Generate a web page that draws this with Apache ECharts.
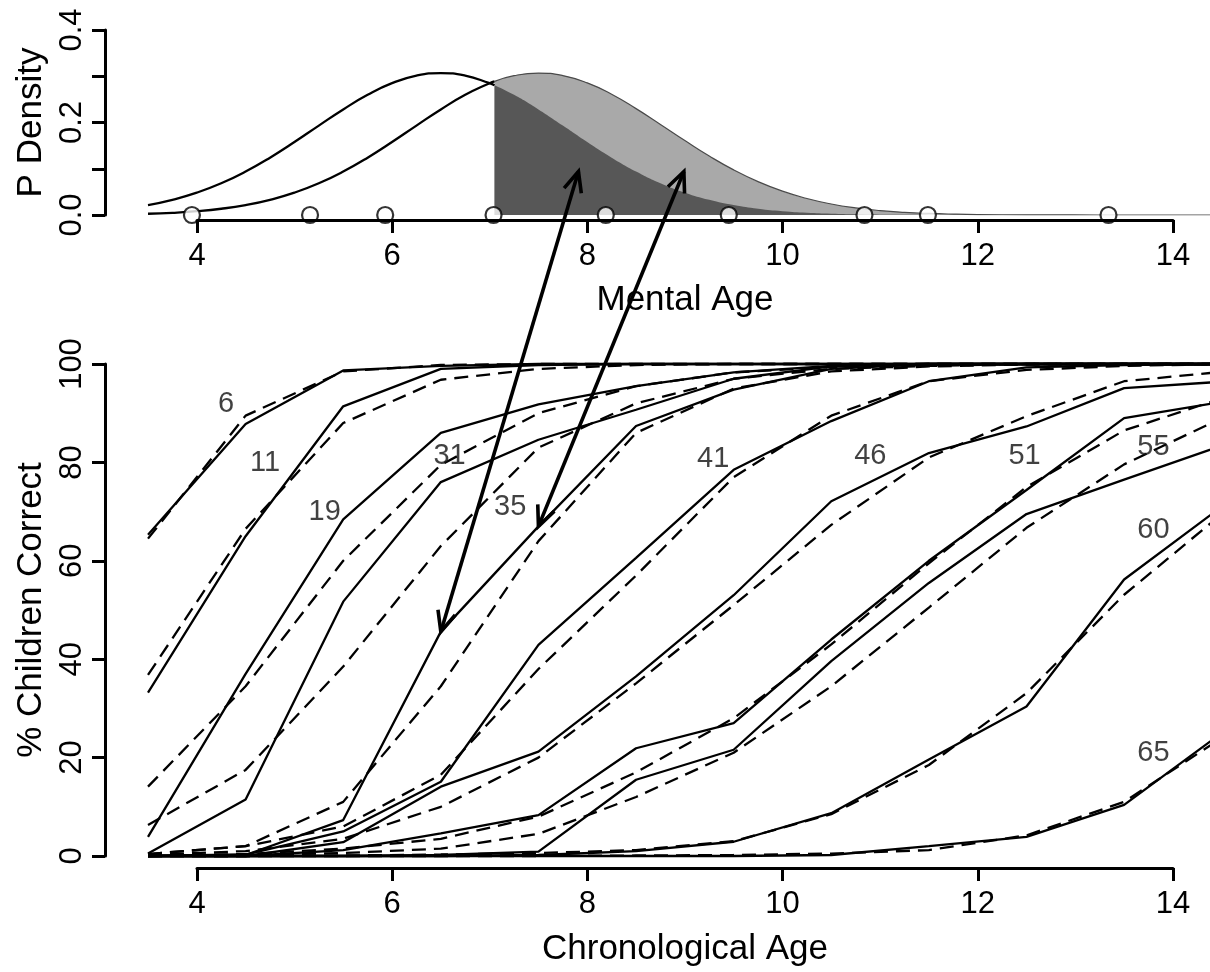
<!DOCTYPE html>
<html>
<head>
<meta charset="utf-8">
<script src="https://cdn.jsdelivr.net/npm/echarts@6/dist/echarts.min.js"></script>
<style>
  html, body { margin: 0; padding: 0; background: #fff; }
  #chart { width: 1210px; height: 972px; }
</style>
</head>
<body>
<div id="chart"></div>
<script>
// ---- top panel: mental age densities ----
const densX = [3.5, 3.75, 4, 4.25, 4.5, 4.75, 5, 5.25, 5.5, 5.75, 6, 6.25, 6.5, 6.75, 7, 7.05,
  7.25, 7.5, 7.75, 8, 8.25, 8.5, 8.75, 9, 9.25, 9.5, 9.75, 10, 10.25, 10.5, 10.75, 11, 11.25,
  11.5, 11.75, 12, 12.5, 13, 13.5, 14, 14.5];
const densLower = [0.0214, 0.0328, 0.0483, 0.0686, 0.094, 0.124, 0.1577, 0.1933, 0.2283, 0.2598,
  0.285, 0.3013, 0.3069, 0.3013, 0.285, 0.2806, 0.2598, 0.2283, 0.1933, 0.1577, 0.124, 0.094,
  0.0686, 0.0483, 0.0328, 0.0214, 0.0135, 0.0082, 0.0048, 0.0027, 0.0015, 0.0008, 0.0004,
  0.0002, 0.0001, 0, 0, 0, 0, 0, 0];
const densUpper = [0.0027, 0.0048, 0.0082, 0.0135, 0.0214, 0.0328, 0.0483, 0.0686, 0.094, 0.124,
  0.1577, 0.1933, 0.2283, 0.2598, 0.285, 0.289, 0.3013, 0.3069, 0.3015, 0.2857, 0.2612, 0.23,
  0.1958, 0.161, 0.1275, 0.0975, 0.0722, 0.0515, 0.0356, 0.0238, 0.0154, 0.0096, 0.0058,
  0.0034, 0.0019, 0.001, 0.0003, 0.0001, 0, 0, 0];
const shadeFrom = 7.05;
const childMentalAges = [3.95, 5.16, 5.93, 7.04, 8.19, 9.45, 10.84, 11.49, 13.34];

// ---- bottom panel: % correct by chronological age ----
const ages = [3.5, 4.5, 5.5, 6.5, 7.5, 8.5, 9.5, 10.5, 11.5, 12.5, 13.5, 14.5];
const obs6  = [65.3, 87.8, 98.7, 99.6, 100, 100, 100, 100, 100, 100, 100, 100];
const fit6  = [64.5, 89.5, 98.5, 99.8, 100, 100, 100, 100, 100, 100, 100, 100];
const obs11 = [33.2, 65.0, 91.4, 99.0, 99.8, 100, 100, 100, 100, 100, 100, 100];
const fit11 = [36.8, 66.5, 88.0, 96.8, 99.0, 99.8, 100, 100, 100, 100, 100, 100];
const obs19 = [3.9, 37.0, 68.4, 86.0, 91.8, 95.5, 98.3, 99.6, 100, 100, 100, 100];
const fit19 = [14.1, 34.5, 60.0, 79.5, 90.0, 95.5, 98.3, 99.4, 99.8, 100, 100, 100];
const obs31 = [0.5, 11.5, 51.7, 76.0, 84.6, 90.7, 97.0, 99.5, 100, 100, 100, 100];
const fit31 = [6.3, 17.5, 38.5, 63.0, 83.0, 92.0, 97.0, 99.0, 99.6, 100, 100, 100];
const obs35 = [0.0, 0.2, 7.3, 45.6, 67.0, 87.4, 94.8, 99.0, 100, 100, 100, 100];
const fit35 = [0.4, 2.0, 11.0, 34.5, 64.0, 86.0, 95.0, 98.5, 99.5, 99.9, 100, 100];
const obs41 = [0.0, 0.3, 5.0, 15.1, 42.9, 60.6, 78.5, 88.4, 96.5, 99.3, 99.8, 100];
const fit41 = [0.4, 2.0, 6.0, 16.5, 38.0, 57.0, 77.0, 89.5, 96.5, 98.8, 99.6, 100];
const obs46 = [0.0, 0.0, 2.8, 14.1, 21.2, 36.5, 53.0, 72.1, 81.9, 87.3, 95.1, 96.4];
const fit46 = [0.2, 1.0, 3.5, 10.0, 20.0, 35.1, 51.0, 67.3, 81.0, 89.4, 96.5, 98.4];
const obs51 = [0.0, 0.0, 1.2, 4.6, 8.3, 21.9, 27.0, 44.0, 60.0, 74.4, 89.0, 92.3];
const fit51 = [0.1, 0.4, 1.5, 3.5, 8.0, 17.0, 28.0, 43.0, 59.5, 75.0, 86.5, 93.0];
const obs55 = [0.0, 0.0, 0.0, 0.2, 0.9, 15.5, 21.6, 39.6, 55.5, 69.5, 76.5, 83.4];
const fit55 = [0.0, 0.2, 0.6, 1.5, 4.5, 12.0, 21.0, 34.5, 50.5, 66.7, 79.6, 89.0];
const obs60 = [0.0, 0.0, 0.0, 0.0, 0.2, 1.0, 2.9, 8.7, 19.6, 30.4, 56.2, 71.0];
const fit60 = [0.0, 0.0, 0.1, 0.3, 0.6, 1.2, 3.0, 8.5, 18.5, 33.1, 53.1, 69.5];
const obs65 = [0.0, 0.0, 0.0, 0.0, 0.0, 0.0, 0.0, 0.2, 2.0, 3.9, 10.4, 25.0];
const fit65 = [0.0, 0.0, 0.0, 0.0, 0.0, 0.1, 0.2, 0.5, 1.2, 4.2, 11.0, 24.0];

const itemNames = ['6', '11', '19', '31', '35', '41', '46', '51', '55', '60', '65'];
const itemObs = [obs6, obs11, obs19, obs31, obs35, obs41, obs46, obs51, obs55, obs60, obs65];
const itemFit = [fit6, fit11, fit19, fit31, fit35, fit41, fit46, fit51, fit55, fit60, fit65];
const labelAge = [4.3, 4.7, 5.31, 6.59, 7.21, 9.29, 10.9, 12.48, 13.8, 13.8, 13.8];
const labelPct = [91.9, 79.9, 70.0, 81.3, 71.0, 80.6, 81.2, 81.2, 83.2, 66.2, 20.9];

// arrows: from the shaded density down to item 35 at ages 6.5 and 7.5
const arrowTop = [[7.91, 0.094], [8.99, 0.094]];
const arrowBottom = [[ages[3], obs35[3]], [ages[4], obs35[4]]];

const FONT = 'Liberation Sans';
const zip = (xs, ys) => xs.map((x, i) => [x, ys[i]]);
const cut = densX.indexOf(shadeFrom);

const chart = echarts.init(document.getElementById('chart'));

const dataAxis = (grid) => ({
  gridIndex: grid, type: 'value', min: 3.5, max: 14.38, show: false,
});
const shownX = (grid, name, gap) => ({
  gridIndex: grid, type: 'value', min: 4, max: 14, interval: 2, z: 10,
  name, nameLocation: 'middle', nameGap: gap,
  nameTextStyle: { fontFamily: FONT, fontSize: 35, color: '#000' },
  axisLine: { lineStyle: { color: '#000', width: 3 } },
  axisTick: { length: 13, lineStyle: { color: '#000', width: 3 } },
  axisLabel: { fontFamily: FONT, fontSize: 31, color: '#000', margin: 21 },
  splitLine: { show: false },
});
const shownY = (grid, name, max, interval, fmt) => ({
  gridIndex: grid, type: 'value', min: 0, max, interval, offset: 43,
  name, nameLocation: 'middle', nameGap: 54, nameRotate: 90,
  nameTextStyle: { fontFamily: FONT, fontSize: 35, color: '#000' },
  axisLine: { show: true, lineStyle: { color: '#000', width: 3 } },
  axisTick: { show: true, length: 13, lineStyle: { color: '#000', width: 3 } },
  axisLabel: { fontFamily: FONT, fontSize: 31, color: '#000', rotate: 90, margin: 17, formatter: fmt },
  splitLine: { show: false },
});
const hiddenY = (grid) => ({ gridIndex: grid, type: 'value', min: 0, max: 1, show: false });

const series = [
  {
    type: 'line', xAxisIndex: 0, yAxisIndex: 0, z: 1, smooth: true, symbol: 'none',
    data: zip(densX.slice(cut), densUpper.slice(cut)),
    lineStyle: { color: '#4a4a4a', width: 1.2 },
    areaStyle: { color: '#a9a9a9', opacity: 1 },
  },
  {
    type: 'line', xAxisIndex: 0, yAxisIndex: 0, z: 2, smooth: true, symbol: 'none',
    data: zip(densX.slice(cut), densLower.slice(cut)),
    lineStyle: { width: 0 },
    areaStyle: { color: '#575757', opacity: 1 },
  },
  {
    type: 'line', xAxisIndex: 0, yAxisIndex: 0, z: 3, smooth: true, symbol: 'none',
    data: zip(densX.slice(0, cut + 1), densLower.slice(0, cut + 1)),
    lineStyle: { color: '#000', width: 2.3 },
  },
  {
    type: 'line', xAxisIndex: 0, yAxisIndex: 0, z: 3, smooth: true, symbol: 'none',
    data: zip(densX.slice(0, cut + 1), densUpper.slice(0, cut + 1)),
    lineStyle: { color: '#000', width: 2.3 },
  },
  {
    type: 'scatter', xAxisIndex: 0, yAxisIndex: 0, z: 4, clip: false,
    symbol: 'circle', symbolSize: 16,
    data: childMentalAges.map((x) => [x, 0]),
    itemStyle: { color: '#fff', borderColor: '#000', borderWidth: 2.2 },
  },
];

itemNames.forEach((name, i) => {
  series.push({
    type: 'line', xAxisIndex: 2, yAxisIndex: 2, z: 3, clip: false, symbol: 'none',
    data: zip(ages, itemFit[i]),
    lineStyle: { color: '#000', width: 2.3, type: [14, 8] },
  });
  series.push({
    type: 'line', xAxisIndex: 2, yAxisIndex: 2, z: 3, clip: false, symbol: 'none',
    data: zip(ages, itemObs[i]),
    lineStyle: { color: '#000', width: 2.3 },
  });
});

series.push({
  type: 'scatter', xAxisIndex: 2, yAxisIndex: 2, z: 5, symbolSize: 1,
  itemStyle: { color: 'rgba(0,0,0,0)' },
  data: itemNames.map((n, i) => [labelAge[i], labelPct[i], n]),
  label: {
    show: true, position: 'inside', formatter: (p) => p.data[2],
    fontFamily: FONT, fontSize: 29, color: '#111',
  },
});

chart.setOption({
  animation: false,
  backgroundColor: '#fff',
  grid: [
    { left: 148, top: 30, width: 1062, height: 185 },
    { left: 197, top: 30, width: 976, height: 190 },
    { left: 148, top: 364, width: 1062, height: 492 },
    { left: 197, top: 364, width: 976, height: 511 },
  ],
  xAxis: [dataAxis(0), shownX(1, 'Mental Age', 63), dataAxis(2), shownX(3, 'Chronological Age', 64)],
  yAxis: [
    shownY(0, 'P Density', 0.4, 0.1, (v) => (Math.round(v * 10) % 2 === 0 ? v.toFixed(1) : '')),
    hiddenY(1),
    shownY(2, '% Children Correct', 100, 20, (v) => String(v)),
    hiddenY(3),
  ],
  series,
});

// double-headed arrows linking the two panels
function arrowParts(a, b) {
  const head = (tip, from) => {
    const ang = Math.atan2(from[1] - tip[1], from[0] - tip[0]);
    const L = 22, t = 0.42;
    return [
      [tip[0] + L * Math.cos(ang + t), tip[1] + L * Math.sin(ang + t)],
      tip,
      [tip[0] + L * Math.cos(ang - t), tip[1] + L * Math.sin(ang - t)],
    ];
  };
  const style = { stroke: '#000', lineWidth: 3.6, fill: null, lineJoin: 'miter' };
  return [
    { type: 'polyline', z: 100, shape: { points: [a, b] }, style },
    { type: 'polyline', z: 100, shape: { points: head(a, b) }, style },
    { type: 'polyline', z: 100, shape: { points: head(b, a) }, style },
  ];
}

const graphic = [];
arrowTop.forEach((top, i) => {
  const p0 = chart.convertToPixel({ xAxisIndex: 0, yAxisIndex: 0 }, top);
  const p1 = chart.convertToPixel({ xAxisIndex: 2, yAxisIndex: 2 }, arrowBottom[i]);
  graphic.push(...arrowParts(p0, p1));
});
chart.setOption({ graphic });
</script>
</body>
</html>
